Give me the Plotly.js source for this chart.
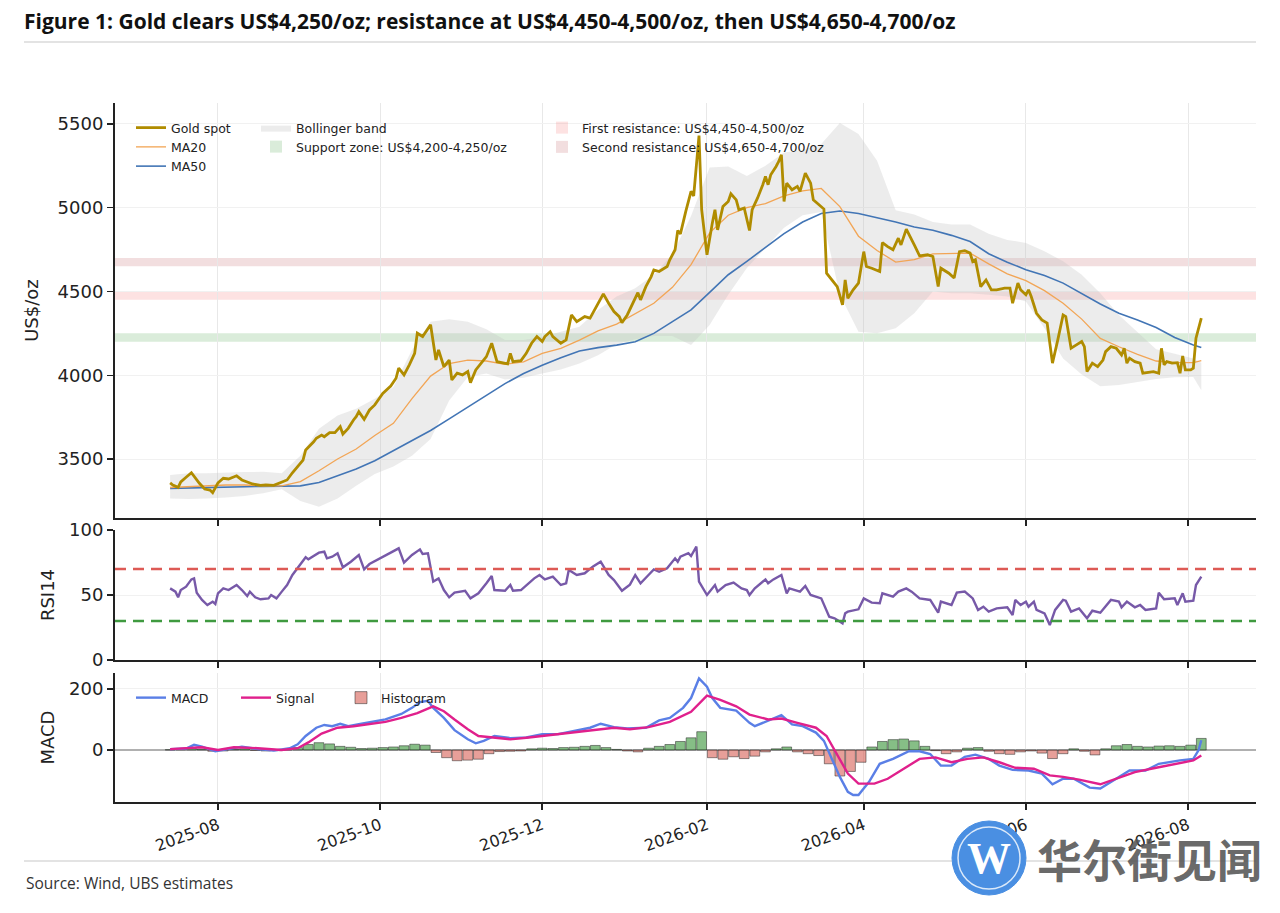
<!DOCTYPE html>
<html>
<head>
<meta charset="utf-8">
<script src="https://cdn.plot.ly/plotly-3.0.1.min.js"></script>
<style>
  html, body { margin: 0; padding: 0; background: #fff; }
  #chart { width: 1280px; height: 913px; }
</style>
</head>
<body>
<div id="chart"></div>
<script>
// ---- gold spot (US$/oz) ----
const goldDates = [
  '2025-07-14','2025-07-15','2025-07-17','2025-07-18','2025-07-20','2025-07-22','2025-07-25','2025-07-27','2025-07-29','2025-07-30',
  '2025-08-01','2025-08-03','2025-08-05','2025-08-08','2025-08-10','2025-08-12','2025-08-14','2025-08-17','2025-08-19','2025-08-22',
  '2025-08-24','2025-08-27','2025-08-29','2025-08-31','2025-09-02','2025-09-03','2025-09-05','2025-09-06','2025-09-07','2025-09-09',
  '2025-09-10','2025-09-12','2025-09-14','2025-09-16','2025-09-17','2025-09-19','2025-09-21','2025-09-22','2025-09-23','2025-09-25',
  '2025-09-27','2025-09-29','2025-10-01','2025-10-02','2025-10-05','2025-10-07','2025-10-08','2025-10-10','2025-10-12','2025-10-14',
  '2025-10-15','2025-10-17','2025-10-20','2025-10-22','2025-10-23','2025-10-25','2025-10-27','2025-10-28','2025-10-30','2025-11-01',
  '2025-11-03','2025-11-04','2025-11-06','2025-11-10','2025-11-12','2025-11-14','2025-11-18','2025-11-19','2025-11-20','2025-11-23',
  '2025-11-25','2025-11-27','2025-11-29','2025-12-01','2025-12-02','2025-12-04','2025-12-05','2025-12-08','2025-12-10','2025-12-12',
  '2025-12-14','2025-12-17','2025-12-19','2025-12-21','2025-12-24','2025-12-26','2025-12-28','2025-12-30','2025-12-31','2026-01-02',
  '2026-01-04','2026-01-06','2026-01-07','2026-01-09','2026-01-11','2026-01-12','2026-01-14','2026-01-17','2026-01-18','2026-01-20',
  '2026-01-21','2026-01-22','2026-01-24','2026-01-25','2026-01-26','2026-01-27','2026-01-29','2026-01-30','2026-01-31','2026-02-01',
  '2026-02-03','2026-02-04','2026-02-05','2026-02-06','2026-02-07','2026-02-09','2026-02-10','2026-02-12','2026-02-13','2026-02-15',
  '2026-02-17','2026-02-18','2026-02-20','2026-02-22','2026-02-23','2026-02-24','2026-02-25','2026-02-27','2026-02-28','2026-03-01',
  '2026-03-02','2026-03-03','2026-03-05','2026-03-07','2026-03-08','2026-03-10','2026-03-12','2026-03-13','2026-03-15','2026-03-17',
  '2026-03-18','2026-03-20','2026-03-22','2026-03-24','2026-03-25','2026-03-26','2026-03-28','2026-03-30','2026-04-01','2026-04-02',
  '2026-04-04','2026-04-07','2026-04-08','2026-04-10','2026-04-12','2026-04-14','2026-04-15','2026-04-17','2026-04-18','2026-04-20',
  '2026-04-22','2026-04-25','2026-04-27','2026-04-29','2026-04-30','2026-05-03','2026-05-05','2026-05-07','2026-05-09','2026-05-11',
  '2026-05-12','2026-05-13','2026-05-15','2026-05-17','2026-05-19','2026-05-21','2026-05-24','2026-05-26','2026-05-27','2026-05-29',
  '2026-05-30','2026-06-01','2026-06-02','2026-06-03','2026-06-05','2026-06-07','2026-06-09','2026-06-11','2026-06-13','2026-06-15',
  '2026-06-16','2026-06-18','2026-06-20','2026-06-22','2026-06-23','2026-06-24','2026-06-26','2026-06-28','2026-06-30','2026-07-01',
  '2026-07-03','2026-07-05','2026-07-07','2026-07-08','2026-07-09','2026-07-10','2026-07-12','2026-07-14','2026-07-15','2026-07-17',
  '2026-07-19','2026-07-21','2026-07-22','2026-07-23','2026-07-24','2026-07-26','2026-07-28','2026-07-29','2026-07-30','2026-07-31',
  '2026-08-02','2026-08-03','2026-08-04','2026-08-06'
];
const goldSpot = [
  3358,3345,3331,3364,3391,3418,3355,3321,3315,3299,
  3358,3385,3381,3400,3375,3364,3351,3343,3346,3343,
  3355,3375,3418,3454,3494,3554,3584,3603,3624,3643,
  3633,3657,3657,3693,3649,3683,3733,3753,3783,3737,
  3793,3823,3869,3892,3936,3982,4042,4002,4062,4131,
  4251,4231,4301,4091,4151,4051,4091,3972,4012,4002,
  4022,3956,4032,4111,4191,4081,4068,4131,4081,4087,
  4131,4191,4231,4201,4231,4260,4231,4191,4211,4360,
  4320,4350,4341,4400,4486,4430,4380,4350,4314,4360,
  4430,4493,4450,4529,4589,4629,4619,4649,4689,4749,
  4864,4844,4977,5037,5098,5070,5430,4988,4848,4719,
  4908,4988,4868,4947,5007,5037,5083,5047,4988,4998,
  4864,4988,5057,5137,5186,5137,5197,5246,5276,5316,
  5037,5147,5107,5127,5097,5207,5147,5047,5017,4992,
  4609,4569,4529,4420,4569,4460,4510,4550,4738,4649,
  4639,4619,4792,4768,4749,4818,4778,4872,4838,4778,
  4713,4719,4709,4529,4639,4609,4580,4738,4744,4729,
  4679,4689,4529,4569,4510,4510,4520,4520,4430,4550,
  4510,4480,4510,4470,4370,4330,4311,4072,4211,4360,
  4350,4161,4181,4201,4171,4022,4072,4051,4091,4141,
  4171,4161,4121,4161,4072,4102,4081,4072,4012,4016,
  4022,4012,4161,4062,4081,4072,4075,4012,4115,4032,
  4032,4042,4221,4341
];

// ---- weekly readings of the smooth overlays ----
const smoothDates = [
  '2025-07-14','2025-07-21','2025-07-28','2025-08-04','2025-08-11','2025-08-18','2025-08-25','2025-09-01','2025-09-08','2025-09-15',
  '2025-09-22','2025-09-29','2025-10-06','2025-10-13','2025-10-20','2025-10-27','2025-11-03','2025-11-10','2025-11-17','2025-11-24',
  '2025-12-01','2025-12-08','2025-12-15','2025-12-22','2025-12-29','2026-01-05','2026-01-12','2026-01-19','2026-01-26','2026-02-02',
  '2026-02-09','2026-02-16','2026-02-23','2026-03-02','2026-03-09','2026-03-16','2026-03-23','2026-03-30','2026-04-06','2026-04-13',
  '2026-04-20','2026-04-27','2026-05-04','2026-05-11','2026-05-18','2026-05-25','2026-06-01','2026-06-08','2026-06-15','2026-06-22',
  '2026-06-29','2026-07-06','2026-07-13','2026-07-20','2026-07-27','2026-08-03','2026-08-06'
];
const ma20 = [
  3330,3335,3340,3345,3345,3340,3340,3365,3430,3500,
  3560,3640,3713,3860,3995,4070,4090,4085,4065,4080,
  4130,4160,4210,4265,4305,4370,4430,4525,4660,4850,
  4955,5000,5025,5070,5100,5115,5007,4830,4745,4675,
  4690,4725,4725,4729,4665,4605,4565,4505,4430,4335,
  4220,4170,4125,4085,4075,4075,4088
];
const ma50 = [
  3325,3328,3330,3332,3335,3337,3338,3340,3360,3400,
  3440,3490,3550,3610,3670,3740,3810,3880,3950,4010,
  4060,4105,4145,4165,4180,4200,4250,4320,4390,4495,
  4600,4680,4765,4845,4915,4965,4980,4965,4940,4915,
  4885,4865,4835,4798,4725,4675,4630,4595,4550,4485,
  4425,4370,4330,4285,4225,4180,4165
];
const bbUpper = [
  3405,3415,3415,3420,3422,3424,3415,3520,3680,3760,
  3800,3860,3930,4150,4320,4335,4320,4275,4210,4210,
  4230,4260,4290,4390,4470,4520,4600,4720,4950,5240,
  5246,5190,5250,5330,5345,5380,5505,5440,5280,4985,
  4960,4915,4900,4900,4845,4808,4790,4740,4680,4600,
  4490,4360,4260,4155,4128,4100,4075
];
const bbLower = [
  3265,3262,3265,3270,3280,3295,3320,3250,3215,3265,
  3340,3410,3455,3520,3620,3850,3990,4010,3975,3985,
  4010,4035,4070,4120,4185,4215,4235,4235,4180,4300,
  4480,4640,4760,4880,4955,4975,4480,4260,4250,4280,
  4370,4500,4490,4490,4480,4470,4440,4280,4100,4005,
  3935,3942,3960,3978,3988,3990,3910
];

// ---- support / resistance zones (US$/oz) ----
const zoneNames = ['Support zone: US$4,200-4,250/oz','First resistance: US$4,450-4,500/oz','Second resistance: US$4,650-4,700/oz'];
const zoneLow = [4200, 4450, 4650];
const zoneHigh = [4250, 4500, 4700];

// ---- RSI14 ----
const rsiDates = [
  '2025-07-14','2025-07-16','2025-07-17','2025-07-18','2025-07-20','2025-07-22','2025-07-23','2025-07-24','2025-07-26','2025-07-28',
  '2025-07-30','2025-07-31','2025-08-01','2025-08-03','2025-08-05','2025-08-08','2025-08-10','2025-08-12','2025-08-13','2025-08-15',
  '2025-08-17','2025-08-20','2025-08-21','2025-08-23','2025-08-25','2025-08-27','2025-08-29','2025-08-31','2025-09-02','2025-09-03',
  '2025-09-04','2025-09-06','2025-09-08','2025-09-10','2025-09-11','2025-09-13','2025-09-15','2025-09-17','2025-09-20','2025-09-23',
  '2025-09-25','2025-09-27','2025-09-30','2025-10-02','2025-10-05','2025-10-08','2025-10-10','2025-10-13','2025-10-16','2025-10-17',
  '2025-10-19','2025-10-21','2025-10-23','2025-10-25','2025-10-27','2025-10-29','2025-11-02','2025-11-04','2025-11-07','2025-11-10',
  '2025-11-12','2025-11-13','2025-11-17','2025-11-19','2025-11-20','2025-11-23','2025-11-25','2025-11-28','2025-11-30','2025-12-02',
  '2025-12-05','2025-12-08','2025-12-10','2025-12-11','2025-12-14','2025-12-17','2025-12-20','2025-12-23','2025-12-26','2025-12-28',
  '2025-12-31','2026-01-03','2026-01-05','2026-01-07','2026-01-10','2026-01-12','2026-01-14','2026-01-17','2026-01-20','2026-01-21',
  '2026-01-22','2026-01-25','2026-01-26','2026-01-28','2026-01-29','2026-02-01','2026-02-04','2026-02-05','2026-02-08','2026-02-11',
  '2026-02-14','2026-02-16','2026-02-17','2026-02-19','2026-02-23','2026-02-24','2026-02-26','2026-03-01','2026-03-03','2026-03-04',
  '2026-03-08','2026-03-10','2026-03-12','2026-03-16','2026-03-19','2026-03-21','2026-03-24','2026-03-25','2026-03-26','2026-03-30',
  '2026-04-01','2026-04-04','2026-04-07','2026-04-08','2026-04-12','2026-04-14','2026-04-17','2026-04-19','2026-04-22','2026-04-26',
  '2026-04-29','2026-04-30','2026-05-04','2026-05-06','2026-05-09','2026-05-12','2026-05-14','2026-05-16','2026-05-18','2026-05-21',
  '2026-05-25','2026-05-27','2026-05-28','2026-05-30','2026-06-01','2026-06-02','2026-06-04','2026-06-05','2026-06-08','2026-06-10',
  '2026-06-12','2026-06-15','2026-06-16','2026-06-18','2026-06-21','2026-06-24','2026-06-26','2026-06-29','2026-07-03','2026-07-06',
  '2026-07-07','2026-07-09','2026-07-12','2026-07-14','2026-07-16','2026-07-20','2026-07-21','2026-07-23','2026-07-27','2026-07-28',
  '2026-07-30','2026-07-31','2026-08-03','2026-08-04','2026-08-06'
];
const rsi14 = [
  55.1,52.6,48.2,53.8,56.4,62.0,62.8,51.8,46.2,42.3,
  44.9,43.1,51.3,55.1,53.8,57.7,53.8,49.2,52.6,48.2,
  46.7,47.4,50.0,47.4,52.6,57.7,65.4,70.5,75.6,79.0,
  77.4,80.0,82.6,83.3,78.2,79.5,82.1,71.3,75.6,80.8,
  69.7,73.8,76.9,79.5,82.6,85.9,74.9,80.8,85.1,81.5,
  82.1,60.3,62.8,53.8,48.2,51.8,53.3,47.4,51.3,59.0,
  64.6,53.8,53.3,57.7,53.3,53.8,57.7,62.8,65.4,62.0,
  64.1,57.7,59.0,69.2,65.4,66.7,71.8,75.6,65.4,61.5,
  53.3,58.0,65.4,59.0,65.4,69.7,67.9,70.5,78.2,75.6,
  79.5,82.1,80.0,87.2,60.3,50.0,57.7,52.6,57.7,59.5,
  55.1,53.8,50.0,55.1,62.0,59.0,62.0,65.4,51.3,55.1,
  52.6,56.9,50.0,47.4,33.3,32.1,28.2,35.9,37.2,39.0,
  47.4,44.1,43.6,51.3,48.7,52.6,55.1,52.6,47.4,46.2,
  36.4,44.9,42.3,51.8,52.6,47.4,38.5,41.0,37.2,39.7,
  40.5,34.6,46.2,42.3,44.9,41.0,44.9,38.5,35.9,26.9,
  38.5,46.2,45.6,37.2,39.7,32.1,37.9,36.4,46.2,44.9,
  40.5,44.9,40.5,42.3,38.5,39.7,51.8,46.7,47.4,42.3,
  51.3,44.9,45.6,57.7,64.1
];

// ---- MACD, signal, histogram ----
const macdDates = [
  '2025-07-14','2025-07-20','2025-07-23','2025-07-26','2025-07-31','2025-08-04','2025-08-10','2025-08-16','2025-08-22','2025-08-28',
  '2025-08-31','2025-09-03','2025-09-07','2025-09-10','2025-09-13','2025-09-16','2025-09-19','2025-09-24','2025-09-28','2025-10-03',
  '2025-10-09','2025-10-13','2025-10-16','2025-10-19','2025-10-21','2025-10-25','2025-10-29','2025-11-03','2025-11-06','2025-11-09',
  '2025-11-13','2025-11-19','2025-11-25','2025-12-01','2025-12-07','2025-12-13','2025-12-19','2025-12-23','2025-12-28','2026-01-02',
  '2026-01-09','2026-01-14','2026-01-18','2026-01-23','2026-01-26','2026-01-29','2026-02-01','2026-02-03','2026-02-06','2026-02-12',
  '2026-02-17','2026-02-19','2026-02-24','2026-03-01','2026-03-05','2026-03-09','2026-03-14','2026-03-17','2026-03-20','2026-03-23',
  '2026-03-26','2026-03-28','2026-03-30','2026-04-03','2026-04-07','2026-04-12','2026-04-18','2026-04-22','2026-04-26','2026-04-30',
  '2026-05-04','2026-05-09','2026-05-13','2026-05-18','2026-05-22','2026-05-27','2026-06-02','2026-06-07','2026-06-11','2026-06-15',
  '2026-06-19','2026-06-25','2026-06-29','2026-07-04','2026-07-10','2026-07-16','2026-07-21','2026-07-29','2026-08-03','2026-08-05',
  '2026-08-06'
];
const macdLine = [
  3,5,17,11,-4,3,11,3,-2,6,
  19,46,73,82,78,86,78,86,92,100,
  118,138,157,161,138,105,65,35,22,30,
  46,39,41,52,52,62,73,86,75,71,
  73,97,105,138,170,234,207,170,138,129,
  89,78,95,114,84,78,57,30,-29,-88,
  -137,-147,-147,-104,-45,-29,-4,-4,-13,-51,
  -51,-22,-15,-29,-51,-65,-67,-77,-112,-94,
  -94,-123,-126,-99,-67,-67,-45,-34,-29,0,
  32
];
const signalDates = [
  '2025-07-14','2025-07-20','2025-07-26','2025-08-01','2025-08-07','2025-08-16','2025-08-25','2025-08-31','2025-09-04','2025-09-09',
  '2025-09-15','2025-09-21','2025-09-27','2025-10-03','2025-10-09','2025-10-15','2025-10-21','2025-10-25','2025-10-29','2025-11-03',
  '2025-11-07','2025-11-12','2025-11-19','2025-11-26','2025-12-04','2025-12-13','2025-12-20','2025-12-28','2026-01-03','2026-01-10',
  '2026-01-18','2026-01-26','2026-02-01','2026-02-06','2026-02-12','2026-02-17','2026-02-24','2026-03-01','2026-03-07','2026-03-14',
  '2026-03-18','2026-03-21','2026-03-26','2026-03-30','2026-04-05','2026-04-10','2026-04-16','2026-04-22','2026-04-28','2026-05-04',
  '2026-05-10','2026-05-16','2026-05-22','2026-05-28','2026-06-04','2026-06-10','2026-06-15','2026-06-21','2026-06-29','2026-07-05',
  '2026-07-12','2026-07-20','2026-07-27','2026-08-03','2026-08-06'
];
const signalLine = [
  3,5,9,0,9,6,0,6,25,54,
  73,78,86,92,105,121,143,127,100,68,
  46,41,35,41,49,57,65,73,68,75,
  92,125,178,164,143,116,100,103,89,73,
  46,-2,-77,-110,-110,-94,-61,-29,-24,-40,
  -29,-24,-40,-58,-61,-83,-88,-97,-112,-94,
  -72,-58,-45,-34,-18
];
const histDates = [
  '2025-07-14','2025-07-18','2025-07-22','2025-07-26','2025-07-30','2025-08-03','2025-08-07','2025-08-11','2025-08-15','2025-08-19',
  '2025-08-23','2025-08-27','2025-08-31','2025-09-04','2025-09-08','2025-09-12','2025-09-16','2025-09-20','2025-09-24','2025-09-28',
  '2025-10-02','2025-10-06','2025-10-10','2025-10-14','2025-10-18','2025-10-22','2025-10-26','2025-10-30','2025-11-03','2025-11-07',
  '2025-11-11','2025-11-15','2025-11-19','2025-11-23','2025-11-27','2025-12-01','2025-12-05','2025-12-09','2025-12-13','2025-12-17',
  '2025-12-21','2025-12-25','2025-12-29','2026-01-02','2026-01-06','2026-01-10','2026-01-14','2026-01-18','2026-01-22','2026-01-26',
  '2026-01-30','2026-02-03','2026-02-07','2026-02-11','2026-02-15','2026-02-19','2026-02-23','2026-02-27','2026-03-03','2026-03-07',
  '2026-03-11','2026-03-15','2026-03-19','2026-03-23','2026-03-27','2026-03-31','2026-04-04','2026-04-08','2026-04-12','2026-04-16',
  '2026-04-20','2026-04-24','2026-04-28','2026-05-02','2026-05-06','2026-05-10','2026-05-14','2026-05-18','2026-05-22','2026-05-26',
  '2026-05-30','2026-06-03','2026-06-07','2026-06-11','2026-06-15','2026-06-19','2026-06-23','2026-06-27','2026-07-01','2026-07-05',
  '2026-07-09','2026-07-13','2026-07-17','2026-07-21','2026-07-25','2026-07-29','2026-08-02','2026-08-06'
];
const histValues = [
  1,2,6,3,-4,-3,2,4,-1,-3,
  -2,1,8,18,24,20,12,9,5,6,
  8,10,14,19,16,-8,-25,-35,-33,-30,
  -12,-5,-4,-3,4,6,5,8,9,12,
  15,8,2,-3,-6,6,12,18,28,40,
  60,-25,-30,-22,-28,-20,-6,4,10,-6,
  -12,-18,-45,-85,-70,-40,10,28,34,36,
  30,12,-2,-12,-6,6,8,-4,-12,-14,
  -6,-3,-10,-28,-12,4,-4,-16,4,14,
  18,12,10,13,14,12,16,38
];

// ---- axis ticks ----
const xTickVals = ['2025-08-01','2025-10-01','2025-12-01','2026-02-01','2026-04-01','2026-06-01','2026-08-01'];
const xTickText = ['2025-08','2025-10','2025-12','2026-02','2026-04','2026-06','2026-08'];
const priceTicks = [3500, 4000, 4500, 5000, 5500];
const rsiTicks = [0, 50, 100];
const rsiLevels = [70, 30];
const macdTicks = [0, 200];

// pixel -> paper helpers for a 1280x913 figure
const W = 1280, H = 913;
const px = v => v / W;
const py = v => 1 - v / H;

const axisFont = { family: 'DejaVu Sans', size: 18, color: '#222' };
const xRange = ['2025-06-23 06:00', '2026-08-26 14:00'];
const xDom = [px(115), px(1256)];

function xAxis(anchor, labels) {
  return {
    domain: xDom, anchor: anchor, type: 'date', range: xRange,
    tickvals: xTickVals, ticktext: xTickText, showticklabels: labels,
    tickangle: -20, tickfont: { family: 'DejaVu Sans', size: 16, color: '#222' },
    ticks: 'outside', ticklen: 6, tickwidth: 1.5, tickcolor: '#222',
    showline: true, linecolor: '#222', linewidth: 2,
    showgrid: true, gridcolor: '#e8e8e8', gridwidth: 1, zeroline: false
  };
}
function yAxis(anchor, dom, range, ticks, title, standoff) {
  return {
    domain: dom, anchor: anchor, range: range, tickvals: ticks, tickfont: axisFont,
    ticks: 'outside', ticklen: 6, tickwidth: 1.5, tickcolor: '#222',
    showline: true, linecolor: '#222', linewidth: 2,
    showgrid: true, gridcolor: '#f1f1f1', zeroline: false,
    title: { text: title, font: { family: 'DejaVu Sans', size: 18, color: '#222' }, standoff: standoff }
  };
}

const histPos = histValues.map(v => (v >= 0 ? v : null));
const histNeg = histValues.map(v => (v < 0 ? v : null));
const barWidth = 4 * 86400000 * 0.92;

const traces = [
  { x: smoothDates, y: bbLower, type: 'scatter', mode: 'lines', line: { width: 0, color: 'rgba(0,0,0,0)' },
    showlegend: false, hoverinfo: 'skip', xaxis: 'x', yaxis: 'y' },
  { x: smoothDates, y: bbUpper, type: 'scatter', mode: 'lines', fill: 'tonexty', fillcolor: 'rgba(195,195,195,0.32)',
    line: { width: 0, color: 'rgba(0,0,0,0)' }, name: 'Bollinger band', legend: 'legend5', xaxis: 'x', yaxis: 'y' },
  { x: smoothDates, y: ma50, type: 'scatter', mode: 'lines', line: { color: '#4275b5', width: 1.6 },
    name: 'MA50', legendrank: 3, xaxis: 'x', yaxis: 'y' },
  { x: smoothDates, y: ma20, type: 'scatter', mode: 'lines', line: { color: '#f2a555', width: 1.3 },
    name: 'MA20', legendrank: 2, xaxis: 'x', yaxis: 'y' },
  { x: goldDates, y: goldSpot, type: 'scatter', mode: 'lines', line: { color: '#b08c00', width: 2.8 },
    name: 'Gold spot', legendrank: 1, xaxis: 'x', yaxis: 'y' },

  { x: rsiDates, y: rsi14, type: 'scatter', mode: 'lines', line: { color: '#7759a8', width: 2.4 },
    showlegend: false, xaxis: 'x2', yaxis: 'y2' },

  { x: histDates, y: histPos, type: 'bar', width: barWidth,
    marker: { color: 'rgba(60,150,60,0.62)', line: { color: 'rgba(30,30,30,0.7)', width: 0.7 } },
    showlegend: false, xaxis: 'x3', yaxis: 'y3' },
  { x: histDates, y: histNeg, type: 'bar', width: barWidth,
    marker: { color: 'rgba(214,90,80,0.58)', line: { color: 'rgba(30,30,30,0.7)', width: 0.7 } },
    name: 'Histogram', legend: 'legend4', legendrank: 3, xaxis: 'x3', yaxis: 'y3' },
  { x: macdDates, y: macdLine, type: 'scatter', mode: 'lines', line: { color: '#5a7fe6', width: 2.4 },
    name: 'MACD', legend: 'legend4', legendrank: 1, xaxis: 'x3', yaxis: 'y3' },
  { x: signalDates, y: signalLine, type: 'scatter', mode: 'lines', line: { color: '#e0208c', width: 2.4 },
    name: 'Signal', legend: 'legend4', legendrank: 2, xaxis: 'x3', yaxis: 'y3' }
];

const zoneFill = ['rgba(70,160,70,0.2)', 'rgba(245,110,110,0.2)', 'rgba(190,90,95,0.2)'];
const zoneLegend = ['legend2', 'legend3', 'legend3'];
const shapes = zoneNames.map((n, i) => ({
  type: 'rect', xref: 'x domain', x0: 0, x1: 1, yref: 'y', y0: zoneLow[i], y1: zoneHigh[i],
  fillcolor: zoneFill[i], line: { width: 0 }, layer: 'below',
  showlegend: true, name: n, legend: zoneLegend[i], legendrank: i + 1
}));
const levelColor = ['#dd5a55', '#3f9a40'];
rsiLevels.forEach((lv, i) => shapes.push({
  type: 'line', xref: 'x2 domain', x0: 0, x1: 1, yref: 'y2', y0: lv, y1: lv,
  line: { color: levelColor[i], width: 2.5, dash: '11px,7px' }
}));
shapes.push(
  { type: 'line', xref: 'paper', yref: 'paper', x0: px(24), x1: px(1256), y0: py(42), y1: py(42), line: { color: '#c8c8c8', width: 1.2 } },
  { type: 'line', xref: 'paper', yref: 'paper', x0: px(24), x1: px(1256), y0: py(861), y1: py(861), line: { color: '#c8c8c8', width: 1.2 } },
  { type: 'circle', xref: 'paper', yref: 'paper', x0: px(952), x1: px(1026), y0: py(895), y1: py(821),
    fillcolor: '#4a8fe2', line: { color: '#4a8fe2', width: 1 }, layer: 'above' },
  { type: 'circle', xref: 'paper', yref: 'paper', x0: px(958), x1: px(1020), y0: py(889), y1: py(827),
    fillcolor: 'rgba(0,0,0,0)', line: { color: 'rgba(255,255,255,0.8)', width: 1.5 }, layer: 'above' }
);

const legendBase = {
  xanchor: 'left', yanchor: 'top', bgcolor: 'rgba(0,0,0,0)', borderwidth: 0,
  font: { family: 'DejaVu Sans', size: 12.5, color: '#222' }, tracegroupgap: 0, itemwidth: 30
};

const layout = {
  width: W, height: H, margin: { l: 0, r: 0, t: 0, b: 0 },
  paper_bgcolor: '#fff', plot_bgcolor: '#fff',
  title: { text: 'Figure 1: Gold clears US$4,250/oz; resistance at US$4,450-4,500/oz, then US$4,650-4,700/oz',
    x: px(24), xanchor: 'left', y: py(22), yanchor: 'middle',
    font: { family: 'Open Sans', size: 21, weight: 700, color: '#111' } },
  showlegend: true,
  legend: Object.assign({}, legendBase, { x: px(131), y: py(113) }),
  legend5: Object.assign({}, legendBase, { x: px(256), y: py(113) }),
  legend2: Object.assign({}, legendBase, { x: px(256), y: py(132) }),
  legend3: Object.assign({}, legendBase, { x: px(542), y: py(113) }),
  legend4: Object.assign({}, legendBase, { x: px(131), y: py(683), orientation: 'h', entrywidth: 60 }),
  barmode: 'relative', bargap: 0,
  xaxis: xAxis('y', false),
  xaxis2: xAxis('y2', false),
  xaxis3: xAxis('y3', true),
  yaxis: yAxis('x', [py(518), py(103)], [3148, 5625], priceTicks, 'US$/oz', 14),
  yaxis2: yAxis('x2', [py(660), py(530)], [0, 100], rsiTicks, 'RSI14', 10),
  yaxis3: Object.assign(yAxis('x3', [py(802), py(673)], [-170, 252], macdTicks, 'MACD', 10),
    { zeroline: true, zerolinecolor: '#b0b0b0', zerolinewidth: 1.5 }),
  shapes: shapes,
  annotations: [
    { text: 'Source: Wind, UBS estimates', xref: 'paper', yref: 'paper', x: px(24), y: py(883),
      xanchor: 'left', yanchor: 'middle', showarrow: false,
      font: { family: 'Open Sans', size: 15.5, color: '#333' } },
    { text: 'W', xref: 'paper', yref: 'paper', x: px(989), y: py(858), xanchor: 'center', yanchor: 'middle',
      showarrow: false, font: { family: 'Liberation Serif', size: 44, weight: 700, color: '#ffffff' } },
    { text: '华尔街见闻', xref: 'paper', yref: 'paper', x: px(1035), y: py(858), xanchor: 'left', yanchor: 'middle',
      showarrow: false, font: { family: 'Noto Sans CJK SC', size: 45, weight: 700, color: 'rgba(85,85,85,0.88)' } }
  ],
  hovermode: false
};

Plotly.newPlot('chart', traces, layout, { displayModeBar: false, staticPlot: true });
</script>
</body>
</html>
